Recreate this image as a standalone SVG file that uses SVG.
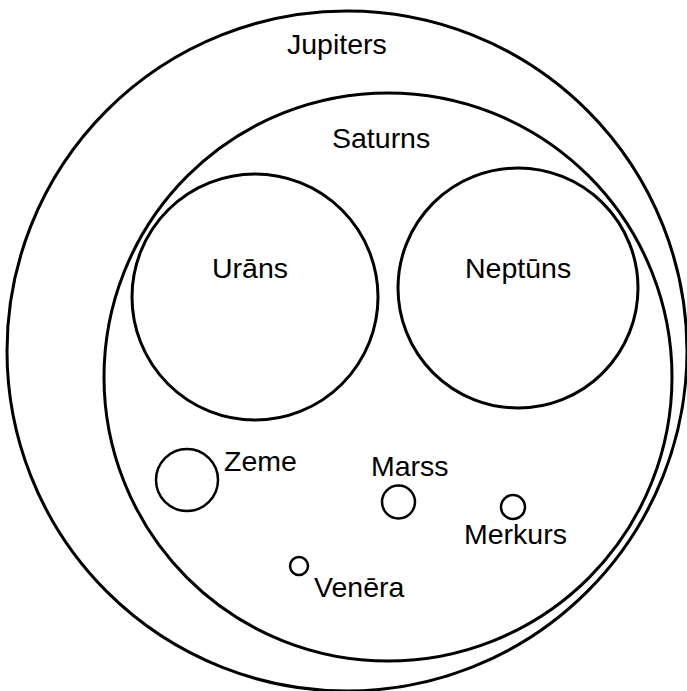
<svg xmlns="http://www.w3.org/2000/svg" width="687" height="691" viewBox="0 0 687 691">
<style>
.c{fill:none;stroke:#000;stroke-width:3}
.s{fill:none;stroke:#000;stroke-width:2.5}
text{font-family:"Liberation Sans",Arial,sans-serif;font-size:28.5px;fill:#000}
</style>
<rect width="687" height="691" fill="#fff"/>
<g id="jupiters"><circle class="c" cx="347" cy="351" r="340"/><text x="287" y="54">Jupiters</text></g>
<g id="saturns"><circle class="c" cx="388" cy="377" r="284"/><text x="332" y="148">Saturns</text></g>
<g id="urans"><circle class="c" cx="255" cy="297" r="123"/><text x="212" y="278">Urāns</text></g>
<g id="neptuns"><circle class="c" cx="518" cy="288" r="120"/><text x="465" y="278">Neptūns</text></g>
<g id="zeme"><circle class="s" cx="187" cy="480" r="31"/><text x="224" y="471">Zeme</text></g>
<g id="marss"><circle class="s" cx="398.5" cy="502" r="16.5"/><text x="371" y="476">Marss</text></g>
<g id="merkurs"><circle class="s" cx="513" cy="507" r="12"/><text x="464" y="544">Merkurs</text></g>
<g id="venera"><circle class="s" cx="299" cy="566" r="9"/><text x="314" y="597">Venēra</text></g>
<g id="connectors"></g>
</svg>
